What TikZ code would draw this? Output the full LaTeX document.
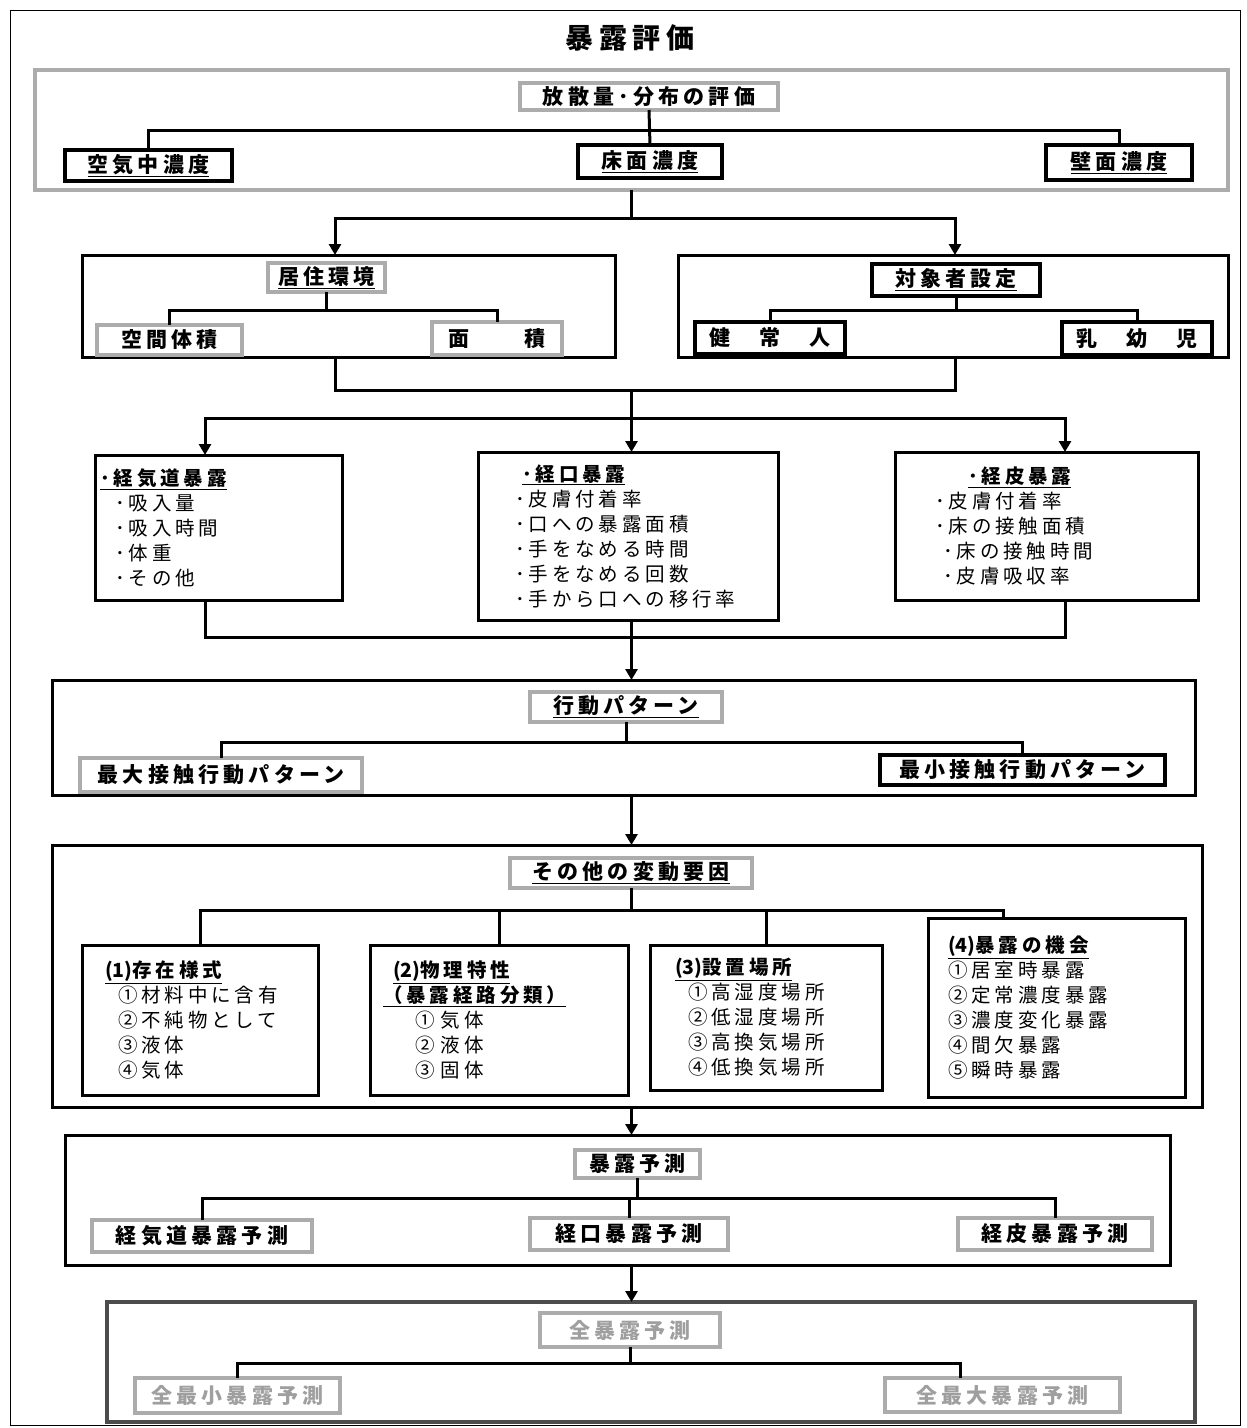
\documentclass[tikz,border=0pt]{standalone}
\usepackage{fontspec}
\setmainfont{Noto Sans CJK JP}[LetterSpace=20]
\newfontfamily\plainlat{Noto Sans CJK JP}
\usepackage{tikz}
\usetikzlibrary{arrows.meta}
\newcommand\titlefont{\fontsize{28}{32}\selectfont\bfseries}
\newcommand\lblfont{\fontsize{21}{24}\selectfont\bfseries}
\newcommand\listfont{\fontsize{19.5}{25}\selectfont}
\newcommand\num[1]{{\plainlat(#1)}}

\begin{document}
\begin{tikzpicture}[x=1pt,y=-1pt,
  >={Triangle[width=12pt,length=11pt]},
  sz/.style 2 args={minimum width=#1pt,minimum height=#2pt,text width=#1pt},
  grp/.style={draw,line width=3pt,anchor=north west,inner sep=0pt,outer sep=0pt},
  lbl/.style={draw,line width=3.5pt,anchor=north west,inner sep=0pt,outer sep=0pt,
              align=center,font=\lblfont},
  glbl/.style={lbl,draw=gray!65,line width=4pt},
  inbox/.style={draw,line width=3pt,anchor=north west,inner sep=0pt,outer sep=0pt,
                align=left,font=\listfont},
  tree/.style={line width=3pt}]
  \useasboundingbox (0,0) rectangle (1247,1428);
  \draw[line width=1pt] (10,10) rectangle (1240,1425);
  \node[font=\titlefont] (title) at (630,38) {暴露評価};

  % emission and distribution
  \node[grp,draw=gray!65,line width=4pt,sz={1193}{120}] (g1) at (35,70) {};
  \node[glbl,sz={258}{27}] (emis) at (520,83) {放散量･分布の評価};
  \node[lbl,sz={167}{31}] (air) at (65,150) {\underline{空気中濃度}};
  \node[lbl,sz={144}{33}] (flr) at (578,145) {\underline{床面濃度}};
  \node[lbl,sz={146}{35}] (wal) at (1046,145) {\underline{壁面濃度}};
  \draw[tree] (emis.south) -- (flr.north);
  \draw[tree] (air.north) |- (emis.south |- 0,130) -| (wal.north);

  % living environment / target person
  \node[grp,sz={533}{102}] (g2a) at (82,255) {};
  \node[glbl,sz={117}{29}] (home) at (268,263) {\underline{居住環境}};
  \node[glbl,sz={145}{30}] (vol) at (97,325) {空間体積};
  \node[glbl,sz={130}{33}] (area) at (432,322) {面　　積};
  \draw[tree] (home.south) -- (home.south |- 0,310);
  \draw[tree] (vol.north) |- (home.south |- 0,310) -| (area.north);

  \node[grp,sz={550}{102}] (g2b) at (678,255) {};
  \node[lbl,sz={168}{32}] (tgt) at (872,264) {\underline{対象者設定}};
  \node[lbl,sz={150}{32}] (adult) at (695,322) {健　常　人};
  \node[lbl,sz={150}{33}] (baby) at (1062,322) {乳　幼　児};
  \draw[tree] (tgt.south) -- (tgt.south |- 0,310);
  \draw[tree] (adult.north) |- (tgt.south |- 0,310) -| (baby.north);

  \draw[tree] (g1.south) -- (g1.south |- 0,218) coordinate (j1);
  \draw[tree,<->] (g2a.north -| 335,0) |- (j1) -| (g2b.north -| 955,0);

  % exposure routes
  \node[inbox,sz={247}{145}] (inh) at (95,455) {%
    \hspace*{5pt}\textbf{\underline{･経気道暴露}}\\
    \hspace*{20pt}･吸入量\\
    \hspace*{20pt}･吸入時間\\
    \hspace*{20pt}･体重\\
    \hspace*{20pt}･その他};
  \node[inbox,sz={300}{168}] (oral) at (478,452) {%
    \hspace*{44pt}\textbf{\underline{･経口暴露}}\\
    \hspace*{37pt}･皮膚付着率\\
    \hspace*{37pt}･口への暴露面積\\
    \hspace*{37pt}･手をなめる時間\\
    \hspace*{37pt}･手をなめる回数\\
    \hspace*{37pt}･手から口への移行率};
  \node[inbox,sz={303}{148}] (derm) at (895,452) {%
    \hspace*{73pt}\textbf{\underline{･経皮暴露}}\\
    \hspace*{40pt}･皮膚付着率\\
    \hspace*{40pt}･床の接触面積\\
    \hspace*{48pt}･床の接触時間\\
    \hspace*{48pt}･皮膚吸収率};
  \draw[tree] (g2a.south -| 335,0) |- (j1 |- 0,390) coordinate (j2) -| (g2b.south -| 955,0);
  \draw[tree] (j2) -- (j2 |- 0,418) coordinate (j3);
  \draw[tree,<->] (inh.north -| 205,0) |- (j3) -| (derm.north -| 1065,0);
  \draw[tree,->] (j3) -- (oral.north -| j3);

  % behaviour pattern
  \node[grp,sz={1143}{115}] (g4) at (52,680) {};
  \node[glbl,sz={192}{30}] (act) at (530,692) {\underline{行動パターン}};
  \node[glbl,sz={282}{34}] (maxp) at (80,758) {最大接触行動パターン};
  \node[lbl,sz={285}{30}] (minp) at (880,755) {最小接触行動パターン};
  \draw[tree] (inh.south -| 205,0) |- (j3 |- 0,637) -| (derm.south -| 1065,0);
  \draw[tree,->] (oral.south -| j3) -- (g4.north -| j3);
  \draw[tree] (act.south) -- (act.south |- 0,742);
  \draw[tree] (maxp.north) |- (act.south |- 0,742) -| (minp.north);

  % other factors
  \node[grp,sz={1150}{262}] (g5) at (52,845) {};
  \node[glbl,sz={242}{30}] (oth) at (510,858) {\underline{その他の変動要因}};
  \node[inbox,sz={236}{150}] (f1) at (82,945) {%
    \hspace*{23pt}\textbf{\underline{\num{1}存在様式}}\\
    \hspace*{36pt}①材料中に含有\\
    \hspace*{36pt}②不純物として\\
    \hspace*{36pt}③液体\\
    \hspace*{36pt}④気体};
  \node[inbox,sz={258}{150}] (f2) at (370,945) {%
    \hspace*{23pt}\textbf{\underline{\num{2}物理特性}}\\
    \hspace*{13pt}\textbf{\underline{（暴露経路分類）}}\\
    \hspace*{45pt}① 気体\\
    \hspace*{45pt}② 液体\\
    \hspace*{45pt}③ 固体};
  \node[inbox,sz={232}{145}] (f3) at (650,945) {%
    \hspace*{25pt}\textbf{\underline{\num{3}設置場所}}\\
    \hspace*{38pt}①高湿度場所\\
    \hspace*{38pt}②低湿度場所\\
    \hspace*{38pt}③高換気場所\\
    \hspace*{38pt}④低換気場所};
  \node[inbox,sz={257}{179}] (f4) at (928,918) {%
    \hspace*{20pt}\textbf{\underline{\num{4}暴露の機会}}\\
    \hspace*{20pt}①居室時暴露\\
    \hspace*{20pt}②定常濃度暴露\\
    \hspace*{20pt}③濃度変化暴露\\
    \hspace*{20pt}④間欠暴露\\
    \hspace*{20pt}⑤瞬時暴露};
  \draw[tree,->] (g4.south -| j3) -- (g5.north -| j3);
  \draw[tree] (oth.south) -- (oth.south |- 0,910) coordinate (j5);
  \draw[tree] (f1.north) |- (j5) -| (f4.north -| 1003,0);
  \draw[tree] (f2.north) -- (f2.north |- j5);
  \draw[tree] (f3.north) -- (f3.north |- j5);

  % exposure prediction
  \node[grp,sz={1105}{130}] (g6) at (65,1135) {};
  \node[glbl,sz={125}{28}] (prd) at (575,1150) {暴露予測};
  \node[glbl,sz={220}{32}] (pinh) at (92,1220) {経気道暴露予測};
  \node[glbl,sz={198}{32}] (poral) at (530,1218) {経口暴露予測};
  \node[glbl,sz={194}{32}] (pderm) at (958,1218) {経皮暴露予測};
  \draw[tree,->] (g5.south -| j3) -- (g6.north -| j3);
  \draw[tree] (prd.south) -- (prd.south |- 0,1198);
  \draw[tree] (pinh.north) |- (prd.south |- 0,1198) -| (pderm.north);
  \draw[tree] (poral.north) -- (poral.north |- 0,1198);

  % total exposure prediction
  \node[grp,draw=black!70,line width=4.5pt,sz={1088}{120}] (g7) at (107,1302) {};
  \node[glbl,text=gray!75,sz={180}{34}] (tot) at (540,1313) {全暴露予測};
  \node[glbl,text=gray!75,sz={205}{35}] (tmin) at (135,1378) {全最小暴露予測};
  \node[glbl,text=gray!75,sz={235}{34}] (tmax) at (885,1378) {全最大暴露予測};
  \draw[tree,->] (g6.south -| j3) -- (g7.north -| j3);
  \draw[tree] (tot.south) -- (tot.south |- 0,1363);
  \draw[tree] (tmin.north) |- (tot.south |- 0,1363) -| (tmax.north -| 960,0);
\end{tikzpicture}
\end{document}
